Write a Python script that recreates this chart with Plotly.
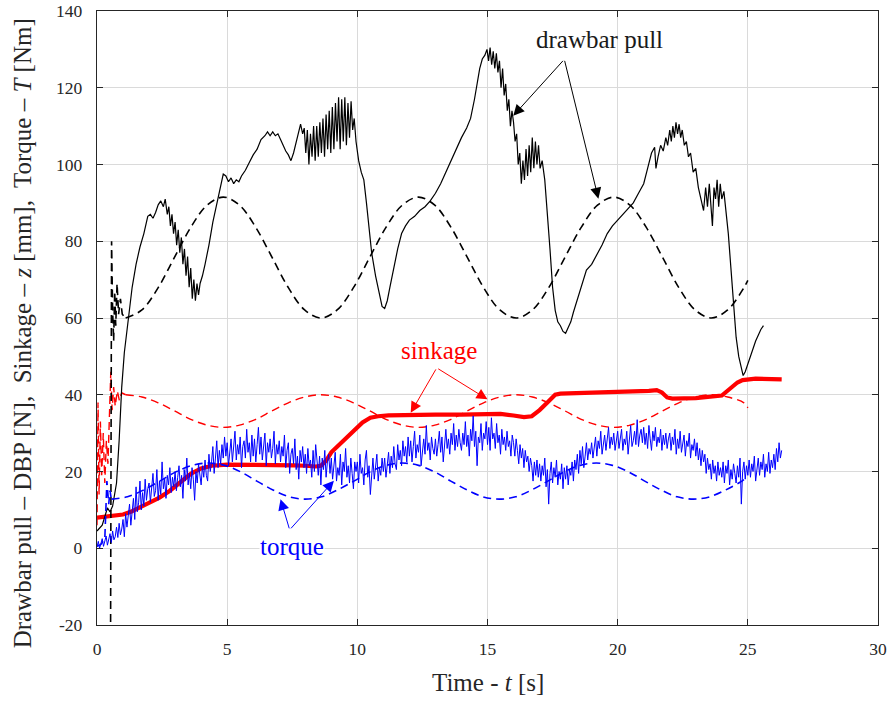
import plotly.graph_objects as go

FONT = "Liberation Serif, Times New Roman, serif"
AXC = "#262626"

# ---------------- data ----------------
# Drawbar pull (measured)
dbp_t = [0.0, 0.2, 0.4, 0.5, 0.6, 0.75, 0.85, 0.95, 1.05, 1.2, 1.35, 1.5, 1.65, 1.8, 1.95, 2.05, 2.15, 2.25,
         2.35, 2.45, 2.55, 2.62, 2.7, 2.76, 2.82, 2.88, 2.94, 3.0, 3.06, 3.12, 3.18, 3.24, 3.3, 3.36, 3.42,
         3.48, 3.54, 3.6, 3.66, 3.72, 3.78, 3.84, 3.9, 3.96, 4.05, 4.15, 4.3, 4.45, 4.6, 4.75, 4.85, 4.95,
         5.05, 5.15, 5.25, 5.35, 5.45, 5.55, 5.7, 5.85, 6.0, 6.15, 6.3, 6.45, 6.55, 6.65, 6.75, 6.85, 6.95,
         7.05, 7.15, 7.25, 7.35, 7.45, 7.55, 7.65, 7.75, 7.82, 7.9, 7.96, 8.02, 8.08, 8.14, 8.2, 8.26, 8.32,
         8.38, 8.44, 8.5, 8.56, 8.62, 8.68, 8.74, 8.8, 8.86, 8.92, 8.98, 9.04, 9.1, 9.16, 9.22, 9.28, 9.34,
         9.4, 9.46, 9.52, 9.58, 9.64, 9.7, 9.76, 9.82, 9.88, 9.95, 10.05, 10.15, 10.25, 10.35, 10.45, 10.55,
         10.7, 10.85, 10.95, 11.05, 11.15, 11.25, 11.4, 11.55, 11.7, 11.85, 12.0, 12.2, 12.4, 12.6, 12.8,
         13.0, 13.2, 13.4, 13.6, 13.8, 14.0, 14.2, 14.35, 14.5, 14.6, 14.7, 14.8, 14.9, 14.98, 15.04, 15.1,
         15.16, 15.22, 15.28, 15.34, 15.4, 15.46, 15.52, 15.58, 15.64, 15.7, 15.76, 15.82, 15.88, 15.94,
         16.0, 16.06, 16.12, 16.18, 16.24, 16.3, 16.36, 16.42, 16.48, 16.54, 16.6, 16.66, 16.72, 16.78,
         16.84, 16.9, 16.96, 17.02, 17.1, 17.2, 17.3, 17.4, 17.5, 17.6, 17.7, 17.8, 17.9, 18.0, 18.1, 18.2,
         18.3, 18.45, 18.6, 18.8, 19.0, 19.2, 19.4, 19.6, 19.8, 20.0, 20.2, 20.4, 20.6, 20.8, 21.0, 21.15,
         21.3, 21.42, 21.47, 21.55, 21.65, 21.75, 21.85, 21.92, 22.0, 22.06, 22.12, 22.18, 22.24, 22.3,
         22.36, 22.42, 22.48, 22.56, 22.64, 22.72, 22.8, 22.9, 23.0, 23.1, 23.2, 23.3, 23.38, 23.45, 23.52,
         23.58, 23.64, 23.7, 23.76, 23.82, 23.88, 23.94, 24.0, 24.08, 24.16, 24.25, 24.35, 24.45, 24.55,
         24.65, 24.75, 24.82, 24.9, 25.0, 25.1, 25.2, 25.3, 25.4, 25.5, 25.6]
dbp_v = [4.5, 6, 10.5, 9.5, 11, 17, 28, 42, 51, 60, 68, 74, 78.5, 82, 86.5, 87, 86, 87.5,
         89.5, 90.5, 89, 91, 87, 89, 84, 87, 82, 85, 79, 83, 77, 81, 74, 78, 71,
         76, 68, 73, 65, 70, 64.5, 69, 66, 69, 71, 74, 79, 85, 90, 95, 97.5, 97,
         95.5, 96.5, 95, 96, 95.5, 97, 98.5, 100.5, 102.5, 104, 106.5, 107.5, 108.5, 107.5, 108.5, 107.5, 108,
         106.5, 105, 103.5, 102.5, 101, 103, 106, 109, 110.5, 108, 109.5, 103, 109, 100, 108, 102, 110,
         101, 110, 102, 111, 103, 112, 102, 113, 104, 114, 103, 115, 104, 116, 106, 117.5, 104,
         117, 106, 117.5, 105, 116, 107, 116.5, 109, 112, 106, 101, 98, 96, 90, 83, 77,
         71, 66, 63, 62.5, 64.5, 68, 73, 78, 82, 84, 85.5, 86.5, 88, 89, 90.5,
         92.5, 95, 98, 101, 104, 107, 109.5, 112, 117, 121, 125, 127.5, 128.5, 130, 127, 130.5,
         126, 129.5, 125, 129, 124, 127, 120, 125, 118, 121, 114, 117, 110, 114,
         111, 106, 108, 100, 103, 95, 101, 96, 104, 97, 105, 98, 107, 99,
         106, 100, 105, 99, 101, 96, 88, 78, 68, 62, 59, 58, 56.5, 56, 57.5, 59,
         61.5, 65, 68.5, 72.5, 74, 76.5, 79, 82, 84, 85.5, 87, 88.5, 90, 92.5, 95, 99,
         103, 104.5, 99, 102, 105, 103.5, 107, 105, 109, 106, 110, 107, 111, 108,
         110.5, 107, 109, 105, 106, 102, 103, 98, 99, 94, 91, 88, 94, 89, 95,
         88, 84, 94, 91, 96, 89, 95, 91, 93, 88, 82, 73, 64, 55,
         50, 46.5, 45, 46, 48, 50.5, 52, 54, 55.5, 57, 58]

# Drawbar pull (reference, dashed): start-up transient and periodic part
dbpref_t0 = [0.52, 0.56, 0.6, 0.64, 0.68, 0.72, 0.77, 0.83, 0.9, 0.97, 1.03, 1.1]
dbpref_v0 = [-26, 80, 62, 54, 67, 58, 69, 61, 65, 61, 60.5, 60]
ref_t = [1.1, 1.725, 2.35, 2.975, 3.6, 4.225, 4.85, 5.475, 6.1, 6.725, 7.35, 7.975, 8.6, 9.225, 9.85,
         10.475, 11.1, 11.725, 12.35, 12.975, 13.6, 14.225, 14.85, 15.475, 16.1, 16.725, 17.35, 17.975,
         18.6, 19.225, 19.85, 20.475, 21.1, 21.725, 22.35, 22.975, 23.6, 24.225, 24.85, 25.0]
dbpref_v = [60, 62.1, 67.9, 75.8, 83.6, 89.4, 91.5, 89.4, 83.6, 75.8, 67.9, 62.1, 60, 62.1, 67.9,
            75.8, 83.6, 89.4, 91.5, 89.4, 83.6, 75.8, 67.9, 62.1, 60, 62.1, 67.9, 75.8,
            83.6, 89.4, 91.5, 89.4, 83.6, 75.8, 67.9, 62.1, 60, 62.1, 67.9, 69.8]

# Sinkage (measured)
sink_t = [0, 0.5, 1.0, 1.3, 1.6, 2.0, 2.4, 2.8, 3.2, 3.6, 4.0, 4.4, 5.0, 6.0, 7.0, 7.6, 8.0, 8.4, 8.6,
          8.8, 9.0, 9.3, 9.6, 9.9, 10.2, 10.5, 10.8, 11.2, 12, 13, 14, 15, 15.5, 16, 16.4, 16.7, 17.0,
          17.3, 17.6, 17.8, 18.5, 19.5, 20.5, 21.2, 21.5, 21.7, 21.9, 22.1, 23, 23.6, 24.0, 24.3, 24.6,
          24.8, 25.3, 26.3]
sink_v = [8, 8.3, 8.8, 9.5, 10.5, 11.8, 13.2, 15, 17.3, 19.4, 20.8, 21.5, 21.8, 21.8, 21.8, 21.6, 21.5,
          21.3, 21.5, 22.8, 25, 27, 29, 31, 32.8, 34, 34.4, 34.6, 34.8, 34.8, 34.8, 34.8, 35, 34.6, 34.2,
          34.4, 36, 38, 40, 40.3, 40.4, 40.6, 40.8, 41, 41.2, 40.6, 39.3, 39, 39.1, 39.4, 39.8, 41.5,
          43.2, 43.8, 44.2, 44]

# Sinkage (reference, dashed)
sinkref_t0 = [0.0, 0.04, 0.08, 0.13, 0.18, 0.24, 0.3, 0.36, 0.42, 0.48, 0.53, 0.58, 0.64, 0.7, 0.78,
              0.86, 0.95, 1.1]
sinkref_v0 = [6, 38, 14, 33, 19, 30, 17, 28, 22, 34, 46, 36, 42, 37, 41, 38.5, 40.5, 40]
sinkref_v = [40, 39.4, 37.9, 35.8, 33.6, 32.1, 31.5, 32.1, 33.6, 35.8, 37.9, 39.4, 40, 39.4, 37.9,
             35.8, 33.6, 32.1, 31.5, 32.1, 33.6, 35.8, 37.9, 39.4, 40, 39.4, 37.9, 35.8,
             33.6, 32.1, 31.5, 32.1, 33.6, 35.8, 37.9, 39.4, 40, 39.4, 37.9, 36.6]

# Torque (measured), sampled every 0.05 s (one row per second)
torque_dt = 0.05
torque_v = [
    0.3, 1.8, 0.0, 1.2, 2.5, 0.5, 1.6, 3.2, 0.8, 2.0, 3.8, 1.5, 4.5, 2.2, 3.0, 5.5, 2.8, 6.5, 3.5, 5.0,
    7.5, 3.0, 9.0, 5.5, 8.0, 11.5, 6.0, 10.0, 13.0, 7.5, 16.0, 9.5, 12.0, 17.5, 10.0, 14.5, 11.0, 18.0, 12.5, 15.5,
    17.0, 12.0, 16.0, 19.5, 13.5, 15.0, 20.5, 12.5, 17.5, 14.0, 22.5, 15.5, 18.0, 13.0, 19.0, 16.5, 21.0, 14.5, 18.5, 16.0,
    20.0, 15.0, 18.5, 21.5, 16.0, 19.0, 13.0, 20.5, 17.5, 23.5, 16.5, 19.5, 15.5, 21.0, 18.0, 12.5, 20.0, 17.0, 22.0, 18.5,
    16.5, 21.5, 18.5, 23.0, 19.0, 17.5, 24.5, 20.0, 22.5, 26.5, 19.5, 23.5, 28.0, 21.0, 25.5, 22.0, 27.0, 23.5, 29.0, 24.0,
    27.5, 21.5, 25.0, 28.5, 22.5, 26.0, 30.5, 23.0, 27.0, 24.5, 29.0, 21.0, 26.5, 28.0, 23.5, 31.0, 25.0, 27.5, 22.5, 29.5,
    24.0, 28.5, 22.5, 27.0, 31.5, 24.5, 29.0, 23.0, 26.5, 30.0, 21.5, 27.5, 25.0, 28.5, 23.5, 26.0, 30.5, 22.0, 27.0, 24.5,
    28.0, 22.5, 26.5, 24.0, 29.5, 21.0, 25.5, 27.5, 19.5, 24.5, 26.0, 22.0, 28.5, 20.5, 24.0, 18.0, 25.5, 22.5, 26.5, 21.0,
    24.5, 19.5, 26.0, 21.5, 23.0, 18.5, 25.5, 20.0, 27.0, 22.5, 19.0, 24.0, 16.5, 23.5, 20.5, 25.5, 18.5, 22.5, 24.5, 19.5,
    23.5, 18.0, 22.0, 25.0, 17.5, 21.0, 19.0, 24.5, 16.5, 22.5, 20.0, 26.0, 18.5, 21.5, 17.0, 23.5, 19.5, 15.5, 22.5, 20.0,
    22.5, 17.0, 24.5, 19.5, 21.0, 16.5, 23.0, 25.5, 18.5, 21.5, 14.0, 20.5, 23.5, 18.0, 22.0, 24.5, 17.5, 21.0, 19.0, 23.5,
    20.0, 23.5, 18.5, 22.5, 25.0, 19.5, 24.0, 21.0, 26.5, 22.0, 20.5, 27.0, 23.0, 25.5, 21.5, 28.0, 24.0, 26.5, 22.5, 29.0,
    24.0, 28.0, 22.5, 26.5, 30.5, 23.5, 27.0, 25.0, 29.5, 21.5, 26.0, 28.5, 24.5, 32.0, 25.5, 27.5, 23.0, 29.0, 26.0, 24.5,
    28.5, 24.0, 27.0, 30.5, 25.0, 29.0, 22.5, 27.5, 31.0, 26.0, 28.5, 24.5, 30.0, 27.0, 32.5, 25.5, 29.5, 26.5, 31.0, 27.5,
    25.5, 30.0, 27.0, 33.0, 26.5, 29.5, 24.0, 31.0, 28.0, 34.5, 26.5, 30.5, 21.5, 29.0, 27.5, 32.5, 25.5, 30.0, 28.5, 33.0,
    27.0, 31.5, 25.5, 34.0, 28.5, 30.0, 26.0, 32.5, 27.5, 29.5, 24.5, 31.0, 27.0, 29.0, 25.5, 30.5, 26.5, 28.0, 24.0, 29.5,
    27.5, 24.0, 28.5, 25.5, 22.0, 27.0, 23.5, 26.0, 21.0, 25.5, 22.5, 24.0, 20.0, 23.5, 21.5, 17.5, 22.5, 19.0, 23.0, 18.5,
    22.0, 17.5, 21.5, 19.0, 23.5, 16.0, 20.5, 11.5, 19.5, 22.5, 17.0, 21.0, 18.5, 23.0, 16.5, 20.0, 18.0, 22.0, 15.5, 21.0,
    18.0, 21.5, 16.5, 20.5, 19.0, 22.5, 17.5, 23.0, 20.5, 24.5, 19.5, 25.5, 22.0, 26.5, 21.0, 24.0, 27.5, 23.0, 26.0, 24.5,
    27.5, 23.5, 26.5, 29.0, 24.0, 28.0, 26.0, 30.5, 24.5, 27.5, 29.5, 25.5, 28.5, 31.5, 26.0, 29.0, 27.0, 30.0, 25.5, 28.5,
    30.5, 26.0, 29.0, 31.0, 25.5, 28.5, 27.0, 30.5, 24.5, 29.5, 32.0, 26.5, 28.0, 30.5, 27.0, 33.5, 26.5, 29.5, 31.0, 27.5,
    31.5, 27.0, 30.0, 26.0, 32.0, 28.5, 25.5, 30.5, 28.0, 31.5, 26.5, 29.0, 27.5, 31.0, 25.5, 29.5, 27.0, 30.0, 26.0, 28.5,
    30.0, 25.5, 29.0, 27.0, 31.0, 24.5, 28.5, 26.0, 30.5, 25.0, 27.5, 29.5, 24.0, 28.0, 26.5, 30.0, 23.5, 27.0, 25.5, 28.5,
    24.0, 27.5, 23.0, 26.0, 21.5, 25.5, 22.5, 24.5, 19.5, 23.5, 20.5, 22.0, 18.0, 23.0, 19.5, 21.5, 17.5, 22.5, 19.0, 21.0,
    18.5, 22.5, 17.0, 21.5, 19.5, 23.0, 16.5, 20.5, 18.0, 22.0, 19.5, 17.0, 21.5, 18.5, 23.5, 11.5, 20.0, 22.5, 18.0, 21.5,
    19.0, 23.0, 18.5, 22.0, 20.0, 24.0, 17.5, 21.5, 23.5, 19.0, 22.5, 20.5, 24.5, 18.5, 22.0, 20.0, 25.0, 19.5, 23.0, 21.0,
    24.5, 20.5, 26.0, 22.5, 27.5, 23.5, 25.5]
torque_t = [round(i * torque_dt, 3) for i in range(len(torque_v))]

# Torque (reference, dashed)
torqueref_t0 = [0.0, 0.15, 0.3, 0.38, 0.45, 0.5, 0.55]
torqueref_v0 = [0.5, 1.0, 2.5, 17.5, 11.5, 15, 12.8]
torqueref_t = [0.55, 1.17, 1.79, 2.41, 3.03, 3.66, 4.28, 4.90, 5.52, 6.14, 6.76, 7.38, 8.00, 8.62, 9.24,
               9.87, 10.49, 11.11, 11.73, 12.35, 12.97, 13.59, 14.21, 14.83, 15.45, 16.08, 16.70, 17.32,
               17.94, 18.56, 19.18, 19.80, 20.42, 21.04, 21.66, 22.29, 22.91, 23.53, 24.15, 24.77, 24.85]
torqueref_v = [12.8, 13.4, 15.2, 17.5, 19.9, 21.6, 22.2, 21.6, 19.9, 17.5, 15.2, 13.4, 12.8, 13.4, 15.2,
               17.5, 19.9, 21.6, 22.2, 21.6, 19.9, 17.5, 15.2, 13.4, 12.8, 13.4, 15.2, 17.5,
               19.9, 21.6, 22.2, 21.6, 19.9, 17.5, 15.2, 13.4, 12.8, 13.4, 15.2, 17.5, 17.9]

x_ticks = [0, 5, 10, 15, 20, 25, 30]
y_ticks = [-20, 0, 20, 40, 60, 80, 100, 120, 140]

# ---------------- figure ----------------
fig = go.Figure()
DASH = "8px,5px"


def add(x, y, color, width, dash="solid", shape="linear"):
    fig.add_trace(go.Scatter(x=x, y=y, mode="lines", showlegend=False, hoverinfo="skip",
                             line=dict(color=color, width=width, dash=dash, shape=shape)))


add(sink_t, sink_v, "#ff0000", 4.2)
add(sinkref_t0, sinkref_v0, "#ff0000", 1.4, DASH)
add(ref_t, sinkref_v, "#ff0000", 1.4, DASH, "spline")
add(dbp_t, dbp_v, "#000000", 1.2)
add(dbpref_t0, dbpref_v0, "#000000", 1.6, DASH)
add(ref_t, dbpref_v, "#000000", 1.6, DASH, "spline")
add(torque_t, torque_v, "#0000ff", 1.0)
add(torqueref_t0, torqueref_v0, "#0000ff", 1.6, DASH)
add(torqueref_t, torqueref_v, "#0000ff", 1.6, DASH, "spline")

annotations = []


def label(x, y, text, color, bg=None):
    d = dict(x=x, y=y, xref="x", yref="y", text=text, showarrow=False,
             font=dict(family=FONT, size=25, color=color), xanchor="center", yanchor="middle")
    if bg:
        d["bgcolor"] = bg
        d["borderpad"] = 0
    annotations.append(d)


def arrow(hx, hy, tx, ty, color):
    annotations.append(dict(x=hx, y=hy, ax=tx, ay=ty, xref="x", yref="y", axref="x", ayref="y",
                            text="", showarrow=True, arrowhead=2, arrowsize=2.2, arrowwidth=1,
                            arrowcolor=color))


label(19.32, 132.5, "drawbar pull", "#1a1a1a")
arrow(15.99, 112.7, 17.95, 127.4, "#000000")
arrow(19.26, 91.1, 17.95, 127.4, "#000000")

label(13.12, 51.6, "sinkage", "#ff0000")
arrow(12.05, 35.3, 13.05, 47.0, "#ff0000")
arrow(15.0, 38.8, 13.05, 47.0, "#ff0000")

label(7.49, 0.5, "torque", "#0000ff", bg="white")
arrow(7.05, 12.8, 7.4, 4.8, "#0000ff")
arrow(9.1, 17.6, 7.4, 4.8, "#0000ff")

annotations.append(dict(x=0.5, y=-0.094, xref="paper", yref="paper", showarrow=False,
                        text="Time - <i>t</i> [s]", xanchor="center", yanchor="middle",
                        font=dict(family=FONT, size=25, color=AXC)))
annotations.append(dict(x=-0.096, y=0.475, xref="paper", yref="paper", showarrow=False, textangle=-90,
                        text="Drawbar pull \u2013 DBP [N],\u00a0 Sinkage \u2013 <i>z</i> [mm],\u00a0 "
                             "Torque \u2013 <i>T</i> [Nm]",
                        xanchor="center", yanchor="middle",
                        font=dict(family=FONT, size=25, color=AXC)))

axis_common = dict(showgrid=True, gridcolor="#dadada", gridwidth=1, zeroline=False,
                   showline=True, linecolor=AXC, linewidth=1.3, mirror="ticks",
                   ticks="inside", ticklen=6, tickcolor=AXC, tickwidth=1,
                   ticklabeloverflow="allow", automargin=False,
                   tickfont=dict(family=FONT, size=17.5, color=AXC))

fig.update_layout(
    width=889, height=702,
    margin=dict(l=97, r=11, t=11, b=77, autoexpand=False),
    plot_bgcolor="white", paper_bgcolor="white",
    xaxis=dict(range=[0, 30], tickvals=x_ticks, ticktext=[str(v) for v in x_ticks],
               ticklabelstandoff=8, **axis_common),
    yaxis=dict(range=[-20, 140], tickvals=y_ticks, ticktext=[str(v) for v in y_ticks],
               ticklabelstandoff=10, **axis_common),
    annotations=annotations,
)

fig.write_html("out.html")
